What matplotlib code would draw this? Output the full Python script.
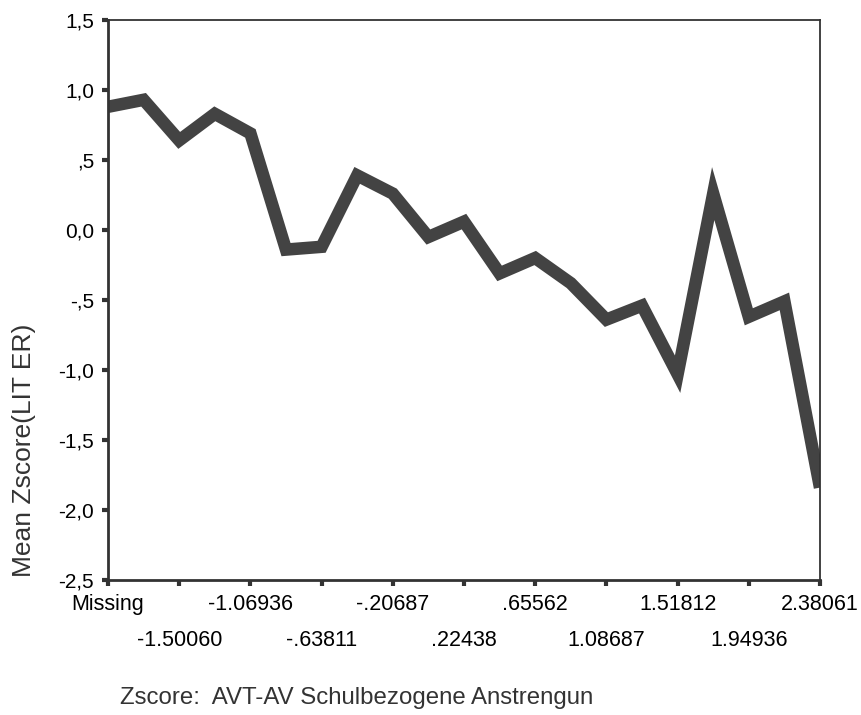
import numpy as np
import matplotlib
matplotlib.use("Agg")
from matplotlib import pyplot as plt

plt.rcParams['font.family'] = ['Liberation Sans', 'DejaVu Sans']

# x categories (every second one labelled, as in the SPSS output)
tick_labels = ['Missing', '-1.50060', '-1.06936', '-.63811', '-.20687', '.22438',
               '.65562', '1.08687', '1.51812', '1.94936', '2.38061']
mean_z = [0.88, 0.93, 0.64, 0.83, 0.69, -0.14, -0.12, 0.39, 0.26, -0.05, 0.06,
          -0.31, -0.20, -0.38, -0.64, -0.54, -1.03, 0.26, -0.62, -0.51, -1.84]
y_ticks = [1.5, 1.0, 0.5, 0.0, -0.5, -1.0, -1.5, -2.0, -2.5]
y_tick_labels = ['1,5', '1,0', ',5', '0,0', '-,5', '-1,0', '-1,5', '-2,0', '-2,5']

fig = plt.figure(figsize=(8.61, 7.15), dpi=100, facecolor='white')
ax = fig.add_axes([108/861, 1-580/715, (820-108)/861, (580-20)/715])

x = np.arange(len(mean_z))
ax.plot(x, mean_z, color='#434343', lw=9, solid_joinstyle='miter',
        solid_capstyle='butt')

ax.set_xlim(0, len(mean_z) - 1)
ax.set_ylim(-2.5, 1.5)

ax.set_yticks(y_ticks)
ax.set_yticklabels(y_tick_labels, fontsize=15)

# labels alternate between two rows: upper row on major, lower row on minor ticks
ax.set_xticks(x[::4])
ax.set_xticklabels(tick_labels[::2], fontsize=15.5)
ax.set_xticks(x[2::4], minor=True)
ax.set_xticklabels(tick_labels[1::2], minor=True, fontsize=15.5)

ax.tick_params(axis='both', which='both', direction='out', length=4, width=3, color='#333333')
ax.tick_params(axis='x', which='major', pad=6)
ax.tick_params(axis='x', which='minor', pad=32)
ax.tick_params(axis='y', pad=6)

for side in ['left', 'bottom']:
    ax.spines[side].set_linewidth(2)
for side in ['top', 'right']:
    ax.spines[side].set_linewidth(1.3)
for s in ax.spines.values():
    s.set_color('#333333')

fig.text(24/861, 1-450/715, 'Mean Zscore(LIT ER)', rotation=90, fontsize=19,
         ha='center', va='center', color='#333333')
fig.text(120/861, 1-698/715, 'Zscore:  AVT-AV Schulbezogene Anstrengun', fontsize=17.3,
         ha='left', va='center', color='#333333')

fig.savefig('out.png', dpi=100)
